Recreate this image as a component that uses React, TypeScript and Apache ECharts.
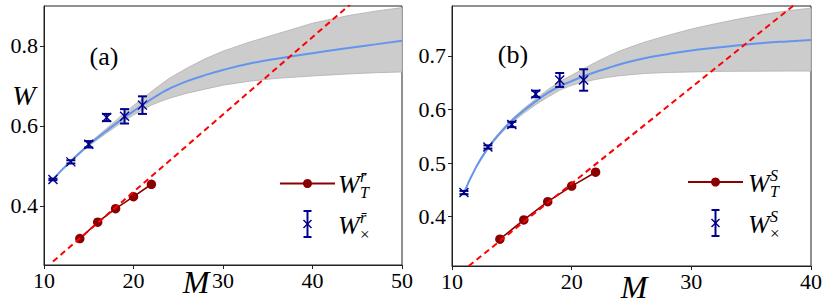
import React, { useEffect, useRef } from "react";
import * as echarts from "echarts";

// ---------- data ----------
const CROSS_M = [11, 13, 15, 17, 19, 21];
const T_M = [14, 16, 18, 20, 22];

// panel (a)
const A_CROSS_W = [0.466, 0.51, 0.554, 0.621, 0.624, 0.652];
const A_CROSS_ERR = [0.002, 0.004, 0.008, 0.009, 0.018, 0.022];
const A_T_W = [0.318, 0.359, 0.393, 0.423, 0.454];
const A_FIT_M = [11, 12, 13, 14, 15, 16, 17, 18, 19, 20, 21, 22, 23, 24, 26, 28, 30, 33, 36, 40, 44, 47, 50];
const A_FIT_W = [0.466, 0.49, 0.512, 0.533, 0.553, 0.571, 0.588, 0.605, 0.621, 0.637, 0.652, 0.667, 0.681, 0.693, 0.712, 0.727, 0.74, 0.756, 0.768, 0.782, 0.795, 0.804, 0.813];
const A_BAND_HI = [0.467, 0.491, 0.514, 0.535, 0.556, 0.575, 0.594, 0.613, 0.633, 0.651, 0.668, 0.686, 0.703, 0.719, 0.745, 0.768, 0.787, 0.81, 0.83, 0.857, 0.876, 0.887, 0.896];
const A_BAND_LO = [0.465, 0.489, 0.51, 0.53, 0.549, 0.566, 0.582, 0.598, 0.613, 0.627, 0.64, 0.652, 0.661, 0.669, 0.682, 0.692, 0.702, 0.712, 0.719, 0.725, 0.73, 0.733, 0.735];
const A_DASH_M = [11, 50];
const A_DASH_W = [0.2606, 1.016];
const A_X_TICKS = [10, 20, 30, 40, 50];
const A_Y_TICKS = [0.4, 0.6, 0.8];

// panel (b)
const B_CROSS_W = [0.445, 0.53, 0.572, 0.629, 0.655, 0.655];
const B_CROSS_ERR = [0.003, 0.003, 0.005, 0.006, 0.013, 0.02];
const B_T_W = [0.358, 0.394, 0.428, 0.457, 0.483];
const B_FIT_M = [11, 12, 13, 14, 15, 16, 17, 18, 19, 20, 21, 22, 23, 24, 26, 28, 30, 32, 34, 36, 38, 40];
const B_FIT_W = [0.445, 0.492, 0.528, 0.556, 0.579, 0.598, 0.615, 0.631, 0.643, 0.653, 0.662, 0.67, 0.677, 0.684, 0.695, 0.703, 0.71, 0.715, 0.72, 0.724, 0.727, 0.7295];
const B_BAND_HI = [0.446, 0.493, 0.53, 0.558, 0.582, 0.602, 0.62, 0.637, 0.652, 0.664, 0.676, 0.688, 0.699, 0.709, 0.725, 0.738, 0.75, 0.76, 0.769, 0.777, 0.784, 0.789];
const B_BAND_LO = [0.444, 0.491, 0.526, 0.553, 0.575, 0.593, 0.609, 0.623, 0.636, 0.645, 0.651, 0.656, 0.66, 0.663, 0.667, 0.669, 0.67, 0.671, 0.6713, 0.6715, 0.6716, 0.6716];
const B_DASH_M = [11.4, 40];
const B_DASH_W = [0.308, 0.82];
const B_X_TICKS = [10, 20, 30, 40];
const B_Y_TICKS = [0.4, 0.5, 0.6, 0.7];

// ---------- styles ----------
const SERIF = "Liberation Serif";
const NAVY = "#00008b";
const DARKRED = "#8b0000";
const FIT_BLUE = "#6495ed";
const AXIS = "#222";
const TICK_FONT = 22;

const zip = (a: number[], b: number[]) => a.map((v, i) => [v, b[i]]);

function errRender(params: any, api: any) {
  const x = api.value(0);
  const y = api.value(1);
  const e = api.value(2);
  const top = api.coord([x, y + e]);
  const bot = api.coord([x, y - e]);
  const c = api.coord([x, y]);
  const cap = 4.5;
  const cr = 4.5;
  const st = { stroke: NAVY, lineWidth: 2 };
  const st2 = { stroke: NAVY, lineWidth: 1.4 };
  return {
    type: "group",
    children: [
      { type: "line", shape: { x1: top[0], y1: top[1], x2: bot[0], y2: bot[1] }, style: st },
      { type: "line", shape: { x1: top[0] - cap, y1: top[1], x2: top[0] + cap, y2: top[1] }, style: st },
      { type: "line", shape: { x1: bot[0] - cap, y1: bot[1], x2: bot[0] + cap, y2: bot[1] }, style: st },
      { type: "line", shape: { x1: c[0] - cr, y1: c[1] - cr, x2: c[0] + cr, y2: c[1] + cr }, style: st2 },
      { type: "line", shape: { x1: c[0] - cr, y1: c[1] + cr, x2: c[0] + cr, y2: c[1] - cr }, style: st2 },
    ],
  };
}

function bandRender(rows: number[][]) {
  return (params: any, api: any) => {
    if (params.dataIndex !== 0) return null;
    const upper = rows.map((r) => api.coord([r[0], r[2]]));
    const lower = rows.map((r) => api.coord([r[0], r[1]])).reverse();
    return {
      type: "polygon",
      shape: { points: upper.concat(lower) },
      style: { fill: "#cccccc", stroke: "#b0b0b0", lineWidth: 0.8 },
    };
  };
}

function panelSeries(idx: number, fitM: number[], fitW: number[], lo: number[], hi: number[], crossW: number[], crossErr: number[], tW: number[], dashM: number[], dashW: number[]) {
  const rows = fitM.map((m, i) => [m, lo[i], hi[i]]);
  return [
    {
      type: "custom", xAxisIndex: idx, yAxisIndex: idx, renderItem: bandRender(rows),
      data: rows, encode: { x: 0, y: [1, 2] }, z: 1, silent: true,
    },
    {
      type: "line", xAxisIndex: idx, yAxisIndex: idx, smooth: true, symbol: "none",
      data: zip(fitM, fitW), lineStyle: { color: FIT_BLUE, width: 2 }, z: 2,
    },
    {
      type: "custom", xAxisIndex: idx, yAxisIndex: idx, renderItem: errRender,
      data: CROSS_M.map((m, i) => [m, crossW[i], crossErr[i]]), encode: { x: 0, y: 1 }, z: 4,
    },
    {
      type: "line", xAxisIndex: idx, yAxisIndex: idx, symbol: "circle", symbolSize: 9.5,
      data: zip(T_M, tW), lineStyle: { color: DARKRED, width: 1.6 }, itemStyle: { color: DARKRED }, z: 3,
    },
    {
      type: "line", xAxisIndex: idx, yAxisIndex: idx, symbol: "none",
      data: zip(dashM, dashW), lineStyle: { color: "#ff0000", width: 2, type: [6, 4] }, z: 5,
    },
  ];
}

function xAxis(idx: number, max: number, ticks: number[]) {
  return {
    type: "value", gridIndex: idx, min: 10, max, interval: 10,
    axisLine: { show: true, lineStyle: { color: AXIS, width: 1 } },
    axisTick: { show: true, length: 4, lineStyle: { color: AXIS } },
    axisLabel: {
      fontFamily: SERIF, fontSize: TICK_FONT, color: "#000", margin: 4,
      formatter: (v: number) => (ticks.indexOf(v) >= 0 ? String(v) : ""),
    },
    splitLine: { show: false },
  };
}

function yAxis(idx: number, min: number, max: number, ticks: number[]) {
  return {
    type: "value", gridIndex: idx, min, max,
    axisLine: { show: true, lineStyle: { color: AXIS, width: 1 } },
    axisTick: { show: true, length: 4, lineStyle: { color: AXIS }, customValues: ticks },
    axisLabel: {
      show: true, fontFamily: SERIF, fontSize: TICK_FONT, color: "#000", margin: 6, customValues: ticks,
      formatter: (v: number) => v.toFixed(1),
    },
    splitLine: { show: false },
  };
}

function txt(text: string, x: number, y: number, size: number, italic: boolean, align = "left") {
  return {
    type: "text", z: 10,
    style: {
      text, x, y, fill: "#000", fontFamily: SERIF, fontSize: size,
      fontStyle: italic ? "italic" : "normal", textAlign: align, textVerticalAlign: "middle",
    },
  };
}

function legend(x0: number, yT: number, yX: number, tx: number, sup: string) {
  const st = { stroke: NAVY, lineWidth: 2 };
  const st2 = { stroke: NAVY, lineWidth: 1.4 };
  const cx = x0 + 27.5;
  return [
    { type: "line", z: 10, shape: { x1: x0, y1: yT, x2: x0 + 55, y2: yT }, style: { stroke: DARKRED, lineWidth: 1.8 } },
    { type: "circle", z: 11, shape: { cx, cy: yT, r: 4.5 }, style: { fill: DARKRED } },
    { type: "line", z: 10, shape: { x1: cx, y1: yX - 13, x2: cx, y2: yX + 13 }, style: st },
    { type: "line", z: 10, shape: { x1: cx - 4, y1: yX - 13, x2: cx + 4, y2: yX - 13 }, style: st },
    { type: "line", z: 10, shape: { x1: cx - 4, y1: yX + 13, x2: cx + 4, y2: yX + 13 }, style: st },
    { type: "line", z: 10, shape: { x1: cx - 4, y1: yX - 4, x2: cx + 4, y2: yX + 4 }, style: st2 },
    { type: "line", z: 10, shape: { x1: cx - 4, y1: yX + 4, x2: cx + 4, y2: yX - 4 }, style: st2 },
    txt("W", tx, yT + 1, 26, true),
    txt(sup, tx + 22, yT - 7, 16, true),
    txt("T", tx + 22, yT + 9, 16, true),
    txt("W", tx, yX + 1, 26, true),
    txt(sup, tx + 22, yX - 7, 16, true),
    txt("\u00d7", tx + 22, yX + 10, 17, false),
  ];
}

export default function App() {
  const ref = useRef<HTMLDivElement>(null);
  useEffect(() => {
    if (!ref.current) return;
    const chart = echarts.init(ref.current, null, { renderer: "svg" });
    const gridCommon = { show: true, borderColor: AXIS, borderWidth: 1, backgroundColor: "transparent", containLabel: false };
    chart.setOption({
      animation: false,
      backgroundColor: "#fff",
      textStyle: { fontFamily: SERIF },
      grid: [
        { ...gridCommon, left: 44, top: 6, width: 358, height: 259 },
        { ...gridCommon, left: 452, top: 6, width: 359, height: 260 },
      ],
      xAxis: [xAxis(0, 50, A_X_TICKS), xAxis(1, 40, B_X_TICKS)],
      yAxis: [yAxis(0, 0.252, 0.9, A_Y_TICKS), yAxis(1, 0.308, 0.793, B_Y_TICKS)],
      series: [
        ...panelSeries(0, A_FIT_M, A_FIT_W, A_BAND_LO, A_BAND_HI, A_CROSS_W, A_CROSS_ERR, A_T_W, A_DASH_M, A_DASH_W),
        ...panelSeries(1, B_FIT_M, B_FIT_W, B_BAND_LO, B_BAND_HI, B_CROSS_W, B_CROSS_ERR, B_T_W, B_DASH_M, B_DASH_W),
      ],
      graphic: [
        txt("(a)", 104, 56, 26, false, "center"),
        txt("(b)", 513, 54, 26, false, "center"),
        txt("W", 24, 95, 28, true, "center"),
        txt("M", 196, 282, 32, true, "center"),
        txt("M", 634, 287, 32, true, "center"),
        ...legend(280, 183.5, 224, 338, "r\u0304"),
        ...legend(688, 182, 223, 748, "S"),
      ],
    });
    return () => chart.dispose();
  }, []);
  return <div ref={ref} style={{ position: "fixed", left: 0, top: 0, width: 830, height: 308 }} />;
}
